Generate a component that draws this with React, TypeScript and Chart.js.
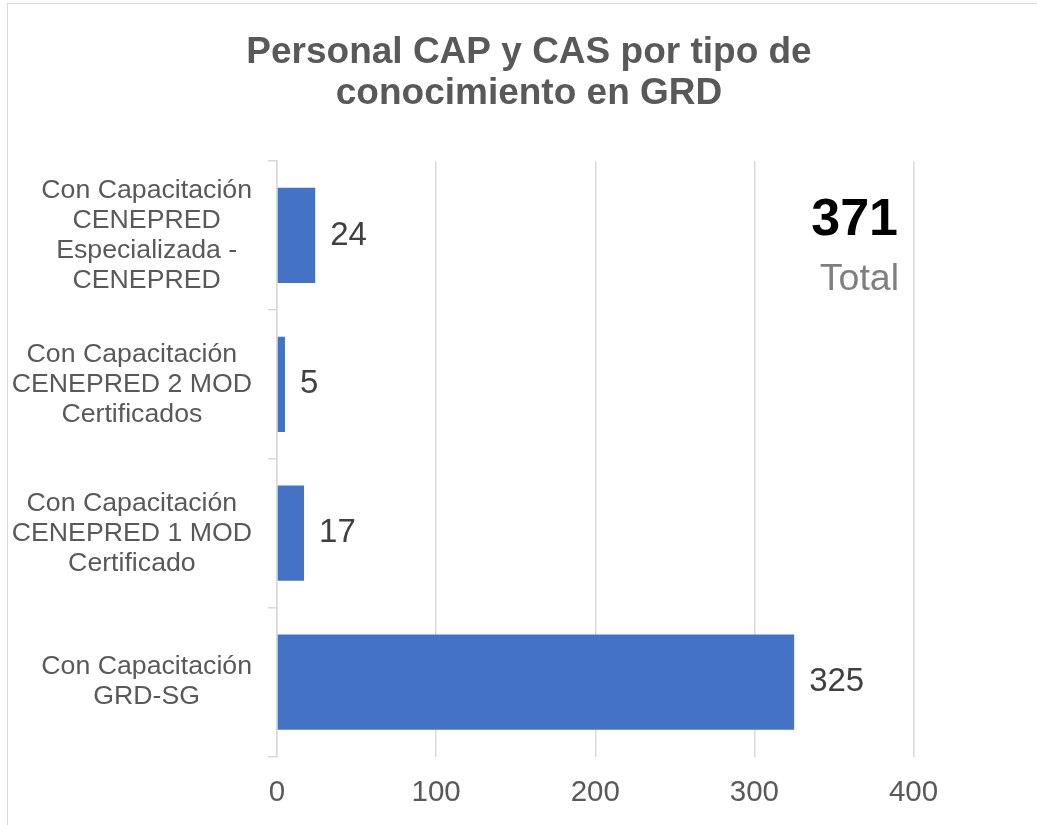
import React, { useEffect, useRef } from "react";
import { Chart, registerables } from "chart.js";

Chart.register(...registerables);

const titleLines = ["Personal CAP y CAS por tipo de", "conocimiento en GRD"];
const categories: string[][] = [
  ["Con Capacitación", "CENEPRED", "Especializada -", "CENEPRED"],
  ["Con Capacitación", "CENEPRED 2 MOD", "Certificados"],
  ["Con Capacitación", "CENEPRED 1 MOD", "Certificado"],
  ["Con Capacitación", "GRD-SG"],
];
const values = [24, 5, 17, 325];
const xTickValues = [0, 100, 200, 300, 400];
const totalCaption = "Total";

const FONT = "'Liberation Sans', Arial, Helvetica, sans-serif";

const titlePlugin = {
  id: "titlePlugin",
  afterDraw(chart: any) {
    const { ctx, width } = chart;
    ctx.save();
    ctx.font = `bold 37px ${FONT}`;
    ctx.fillStyle = "#595959";
    ctx.textAlign = "center";
    ctx.textBaseline = "middle";
    titleLines.forEach((line, i) => {
      ctx.fillText(line, width / 2 + 1, 48.5 + i * 41);
    });
    ctx.restore();
  },
};

const yLabelPlugin = {
  id: "yLabelPlugin",
  afterDraw(chart: any) {
    const { ctx, chartArea } = chart;
    const yScale = chart.scales.y;
    ctx.save();
    ctx.font = `26.7px ${FONT}`;
    ctx.fillStyle = "#595959";
    ctx.textAlign = "center";
    ctx.textBaseline = "middle";
    const rightEdge = chartArea.left - 25;
    const lineH = 30;
    categories.forEach((lines, i) => {
      const w = Math.max(...lines.map((l) => ctx.measureText(l).width));
      const cx = rightEdge - w / 2;
      const cy = yScale.getPixelForValue(i);
      lines.forEach((line, j) => {
        ctx.fillText(line, cx, cy + (j - (lines.length - 1) / 2) * lineH);
      });
    });
    ctx.restore();
  },
};

const valueLabelPlugin = {
  id: "valueLabelPlugin",
  afterDatasetsDraw(chart: any) {
    const { ctx } = chart;
    const meta = chart.getDatasetMeta(0);
    ctx.save();
    ctx.font = `33px ${FONT}`;
    ctx.fillStyle = "#404040";
    ctx.textAlign = "left";
    ctx.textBaseline = "middle";
    meta.data.forEach((bar: any, i: number) => {
      ctx.fillText(String(values[i]), bar.x + 15, bar.y);
    });
    ctx.restore();
  },
};

const totalPlugin = {
  id: "totalPlugin",
  afterDraw(chart: any) {
    const { ctx, chartArea } = chart;
    const total = values.reduce((a, b) => a + b, 0);
    ctx.save();
    ctx.textAlign = "right";
    ctx.textBaseline = "alphabetic";
    ctx.font = `bold 52px ${FONT}`;
    ctx.fillStyle = "#000000";
    ctx.fillText(String(total), chartArea.right - 15.5, chartArea.top + 74);
    ctx.font = `37.5px ${FONT}`;
    ctx.fillStyle = "#7f7f7f";
    ctx.fillText(totalCaption, chartArea.right - 14.5, chartArea.top + 129);
    ctx.restore();
  },
};

export default function App() {
  const ref = useRef<HTMLCanvasElement>(null);
  useEffect(() => {
    if (!ref.current) return;
    const chart = new Chart(ref.current, {
      type: "bar",
      data: {
        labels: categories.map((c) => c.join(" ")),
        datasets: [
          {
            data: values,
            backgroundColor: "#4472C4",
            borderWidth: 0,
            barPercentage: 0.64,
            categoryPercentage: 1,
          },
        ],
      },
      options: {
        indexAxis: "y",
        responsive: false,
        maintainAspectRatio: false,
        animation: false,
        layout: { padding: { left: 0, right: 134.5, top: 157, bottom: 0 } },
        plugins: {
          legend: { display: false },
          tooltip: { enabled: false },
          title: { display: false },
        },
        scales: {
          x: {
            min: xTickValues[0],
            max: xTickValues[xTickValues.length - 1],
            afterBuildTicks: (scale: any) => {
              scale.ticks = xTickValues.map((v) => ({ value: v }));
            },
            afterFit: (scale: any) => {
              scale.height = 68.5;
            },
            ticks: {
              color: "#595959",
              font: { family: FONT, size: 29.5 },
              padding: 19,
              maxRotation: 0,
            },
            grid: { color: "#d9d9d9", lineWidth: 1.5, drawTicks: false },
            border: { display: false },
          },
          y: {
            ticks: { display: false },
            grid: {
              drawOnChartArea: false,
              drawTicks: true,
              tickLength: 9,
              color: "#d9d9d9",
              lineWidth: 1.5,
              offset: true,
            },
            border: { display: true, color: "#d9d9d9", width: 1.5 },
            afterFit: (scale: any) => {
              scale.width = 269;
            },
          },
        },
      },
      plugins: [valueLabelPlugin, yLabelPlugin, totalPlugin, titlePlugin],
    } as any);
    return () => chart.destroy();
  }, []);

  return (
    <div style={{ position: "fixed", left: 0, top: 0, width: "100vw", height: "100vh", overflow: "hidden", background: "#fff" }}>
      <div
        style={{
          position: "absolute",
          left: 7,
          top: 3,
          width: 1100,
          height: 900,
          border: "1px solid #d9d9d9",
          boxSizing: "border-box",
        }}
      />
      <canvas
        ref={ref}
        width={1040}
        height={821}
        style={{ position: "absolute", left: 8, top: 4, width: 1040, height: 821 }}
      />
    </div>
  );
}
